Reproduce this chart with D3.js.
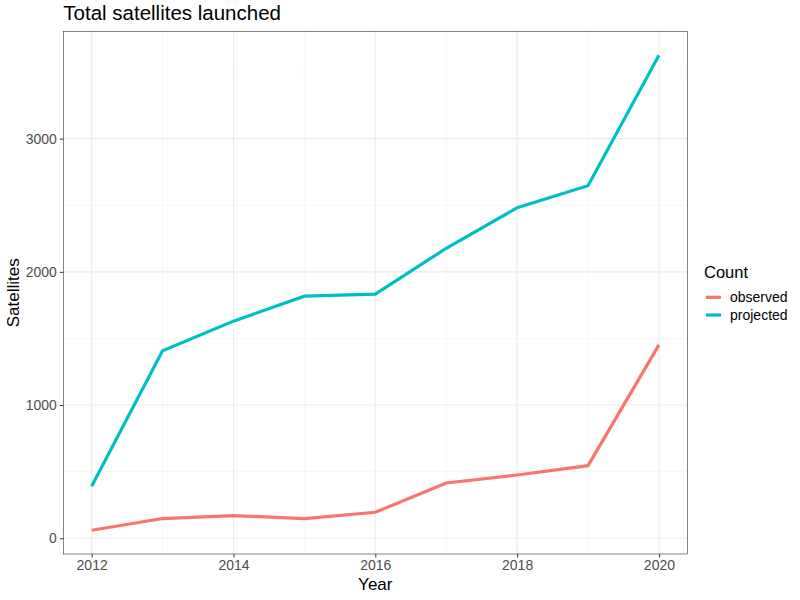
<!DOCTYPE html>
<html>
<head>
<meta charset="utf-8">
<script src="https://cdn.jsdelivr.net/npm/d3@7"></script>
<style>
  body { margin: 0; background: #fff; }
  text { font-family: "Liberation Sans", Arial, sans-serif; }
</style>
</head>
<body>
<svg id="chart" width="800" height="600"></svg>
<script>
// data
const years = [2012, 2013, 2014, 2015, 2016, 2017, 2018, 2019, 2020];
const observed = [60, 148, 170, 148, 195, 415, 475, 545, 1452];
const projected = [390, 1408, 1630, 1817, 1832, 2177, 2481, 2646, 3626];
const seriesNames = ["observed", "projected"];
const seriesColors = ["#F8766D", "#00BFC4"];
const xTicks = [2012, 2014, 2016, 2018, 2020];
const xMinor = [2013, 2015, 2017, 2019];
const yTicks = [0, 1000, 2000, 3000];
const yMinor = [500, 1500, 2500, 3500];

const svg = d3.select("#chart");
const margin = {top: 31.5, right: 112.7, bottom: 46, left: 63.3};
const width = 800 - margin.left - margin.right,
      height = 600 - margin.top - margin.bottom;

const allVals = observed.concat(projected);
const yMin = d3.min(allVals), yMax = d3.max(allVals);
const yPad = (yMax - yMin) * 0.05;

const x = d3.scaleLinear().domain([2012 - 0.4, 2020 + 0.4]).range([0, width]);
const y = d3.scaleLinear().domain([yMin - yPad, yMax + yPad]).range([height, 0]);

const g = svg.append("g")
  .attr("transform", "translate(" + margin.left + "," + margin.top + ")");

//grid
g.selectAll(".ymin").data(yMinor).enter().append("line")
  .attr("x1", 0).attr("x2", width)
  .attr("y1", d => y(d)).attr("y2", d => y(d))
  .attr("stroke", "#F2F2F2").attr("stroke-width", 0.6);
g.selectAll(".xmin").data(xMinor).enter().append("line")
  .attr("y1", 0).attr("y2", height)
  .attr("x1", d => x(d)).attr("x2", d => x(d))
  .attr("stroke", "#F2F2F2").attr("stroke-width", 0.6);
g.selectAll(".ymaj").data(yTicks).enter().append("line")
  .attr("x1", 0).attr("x2", width)
  .attr("y1", d => y(d)).attr("y2", d => y(d))
  .attr("stroke", "#EBEBEB").attr("stroke-width", 1.1);
g.selectAll(".xmaj").data(xTicks).enter().append("line")
  .attr("y1", 0).attr("y2", height)
  .attr("x1", d => x(d)).attr("x2", d => x(d))
  .attr("stroke", "#EBEBEB").attr("stroke-width", 1.1);

//lines
const line = d3.line()
  .x((d, i) => x(years[i]))
  .y(d => y(d));

[observed, projected].forEach((vals, i) => {
  g.append("path")
    .datum(vals)
    .attr("d", line)
    .attr("fill", "none")
    .attr("stroke", seriesColors[i])
    .attr("stroke-width", 3.2);
});

//border
g.append("rect")
  .attr("width", width).attr("height", height)
  .attr("fill", "none")
  .attr("stroke", "#333333")
  .attr("stroke-width", 0.6);

//axes
const xAxis = g.append("g")
  .attr("transform", "translate(0," + height + ")")
  .call(d3.axisBottom(x).tickValues(xTicks).tickFormat(d3.format("d")).tickSize(3.5).tickPadding(2.5));
const yAxis = g.append("g")
  .call(d3.axisLeft(y).tickValues(yTicks).tickFormat(d3.format("d")).tickSize(3.5).tickPadding(3));
[xAxis, yAxis].forEach(a => {
  a.select(".domain").remove();
  a.selectAll("line").attr("stroke", "#333333");
  a.selectAll("text").attr("fill", "#4D4D4D").style("font-size", "14px");
});

//titles
svg.append("text")
  .attr("x", 63.3).attr("y", 20)
  .style("font-size", "20.5px")
  .attr("fill", "#000")
  .text("Total satellites launched");

svg.append("text")
  .attr("x", margin.left + width / 2).attr("y", 590)
  .attr("text-anchor", "middle")
  .style("font-size", "17px")
  .text("Year");

svg.append("text")
  .attr("transform", "translate(18.5," + (margin.top + height / 2) + ") rotate(-90)")
  .attr("text-anchor", "middle")
  .style("font-size", "17px")
  .text("Satellites");

//legend
const legend = svg.append("g").attr("transform", "translate(704,0)");
legend.append("text")
  .attr("x", 0).attr("y", 277.7)
  .style("font-size", "16.5px")
  .text("Count");
seriesNames.forEach((name, i) => {
  const ly = 297.3 + i * 17.7;
  legend.append("line")
    .attr("x1", 2).attr("x2", 17)
    .attr("y1", ly).attr("y2", ly)
    .attr("stroke", seriesColors[i])
    .attr("stroke-width", 3.2);
  legend.append("text")
    .attr("x", 26).attr("y", ly + 4.6)
    .style("font-size", "14px")
    .text(name);
});
</script>
</body>
</html>
